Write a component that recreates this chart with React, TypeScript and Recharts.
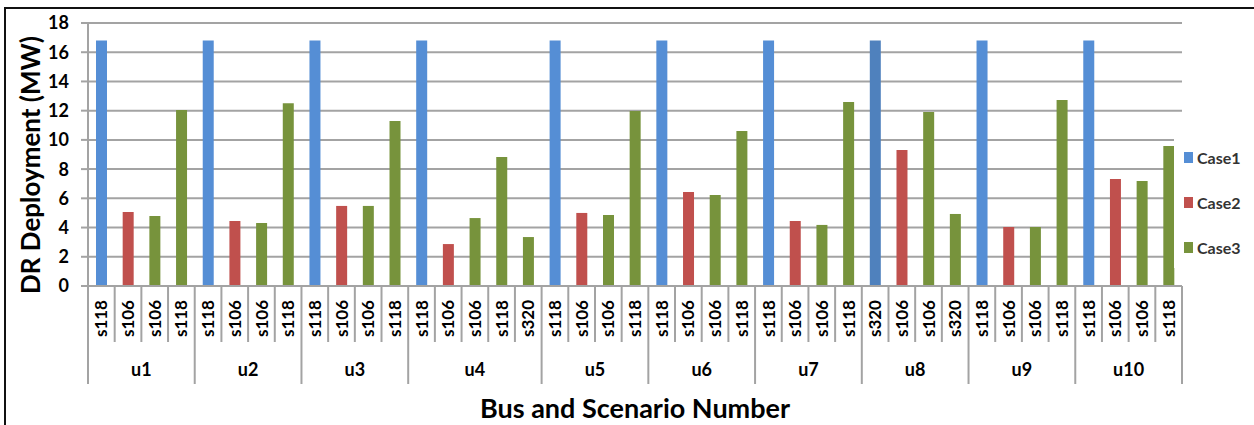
import { Bar, BarChart, CartesianGrid, Cell, XAxis, YAxis } from 'recharts';

const groupLabels = ['u1', 'u2', 'u3', 'u4', 'u5', 'u6', 'u7', 'u8', 'u9', 'u10'];

const scenarioLabels = [
  ['s118', 's106', 's106', 's118'],
  ['s118', 's106', 's106', 's118'],
  ['s118', 's106', 's106', 's118'],
  ['s118', 's106', 's106', 's118', 's320'],
  ['s118', 's106', 's106', 's118'],
  ['s118', 's106', 's106', 's118'],
  ['s118', 's106', 's106', 's118'],
  ['s320', 's106', 's106', 's320'],
  ['s118', 's106', 's106', 's118'],
  ['s118', 's106', 's106', 's118'],
];

const case1Values = [
  [16.8, null, null, null],
  [16.8, null, null, null],
  [16.8, null, null, null],
  [16.8, null, null, null, null],
  [16.8, null, null, null],
  [16.8, null, null, null],
  [16.8, null, null, null],
  [16.8, null, null, null],
  [16.8, null, null, null],
  [16.8, null, null, null],
];

const case2Values = [
  [null, 5.07, null, null],
  [null, 4.45, null, null],
  [null, 5.48, null, null],
  [null, 2.87, null, null, null],
  [null, 5.0, null, null],
  [null, 6.43, null, null],
  [null, 4.45, null, null],
  [null, 9.31, null, null],
  [null, 4.04, null, null],
  [null, 7.32, null, null],
];

const case3Values = [
  [null, null, 4.79, 12.05],
  [null, null, 4.31, 12.5],
  [null, null, 5.48, 11.29],
  [null, null, 4.65, 8.83, 3.35],
  [null, null, 4.86, 11.98],
  [null, null, 6.23, 10.61],
  [null, null, 4.18, 12.59],
  [null, null, 11.91, 4.93],
  [null, null, 4.04, 12.73],
  [null, null, 7.19, 9.58],
];

const seriesNames = ['Case1', 'Case2', 'Case3'];
const seriesColors = ['#558ED5', '#C0504D', '#77933C'];

const yTicks = [0, 2, 4, 6, 8, 10, 12, 14, 16, 18];

const FONT = 'Lato, "Open Sans", sans-serif';
const W = 1254;
const H = 425;
const PLOT_LEFT = 88;
const PLOT_RIGHT = 1182;
const PLOT_TOP = 23;
const PLOT_BOTTOM = 286;
const GRID = '#A3A3A3';

const rows = groupLabels.flatMap((g, gi) =>
  scenarioLabels[gi].map((s, si) => ({
    key: `${g}-${si}`,
    group: g,
    groupStart: si === 0,
    groupSize: scenarioLabels[gi].length,
    scenario: s,
    Case1: case1Values[gi][si],
    Case2: case2Values[gi][si],
    Case3: case3Values[gi][si],
  }))
);

const SLOT = (PLOT_RIGHT - PLOT_LEFT) / rows.length;

function ScenarioTick(props: any) {
  const { x, payload } = props;
  const i = props.index ?? payload.index;
  const row = rows[i];
  if (!row) return null;
  const left = x - SLOT / 2;
  const isLast = i === rows.length - 1;
  return (
    <g>
      <line x1={left} x2={left} y1={PLOT_BOTTOM} y2={row.groupStart ? 384 : 342} stroke={GRID} strokeWidth={2} />
      {isLast && <line x1={x + SLOT / 2} x2={x + SLOT / 2} y1={PLOT_BOTTOM} y2={384} stroke={GRID} strokeWidth={2} />}
      <text
        x={x}
        y={300}
        transform={`rotate(-90 ${x} 300)`}
        textAnchor="end"
        dy="0.36em"
        fontFamily={FONT}
        fontWeight="bold"
        fontSize={17}
        fill="#000"
      >
        {row.scenario}
      </text>
      {row.groupStart && (
        <text
          x={left + (SLOT * row.groupSize) / 2}
          y={370}
          textAnchor="middle"
          dy="0.36em"
          fontFamily={FONT}
          fontWeight="bold"
          fontSize={18}
          fill="#000"
        >
          {row.group}
        </text>
      )}
    </g>
  );
}

export default function App() {
  return (
    <div style={{ position: 'absolute', left: 0, top: 0, width: W, height: H, background: '#fff', overflow: 'hidden' }}>
      <div style={{ position: 'absolute', left: 4, top: 7, right: -5, bottom: -5, borderLeft: '2px solid #111', borderTop: '2px solid #111' }} />
      <div style={{ position: 'absolute', left: 0, top: 0 }}>
        <BarChart width={W} height={H} data={rows} margin={{ top: PLOT_TOP, right: W - PLOT_RIGHT, bottom: 39, left: 28 }}>
          <CartesianGrid vertical={false} stroke={GRID} strokeWidth={2} />
          <XAxis
            dataKey="key"
            interval={0}
            height={100}
            tickLine={false}
            tick={<ScenarioTick />}
            axisLine={{ stroke: GRID, strokeWidth: 2 }}
          />
          <YAxis
            domain={[0, 18]}
            ticks={yTicks}
            width={60}
            tickSize={7}
            tickMargin={12}
            axisLine={{ stroke: GRID, strokeWidth: 2 }}
            tickLine={{ stroke: GRID, strokeWidth: 2 }}
            tick={{ fontFamily: FONT, fontWeight: 'bold', fontSize: 18, fill: '#000' }}
          />
          <Bar dataKey="Case1" stackId="s" fill={seriesColors[0]} barSize={11} isAnimationActive={false}>
            {rows.map((r) => (
              <Cell key={r.key} fill={r.scenario === 's320' ? '#4F81BD' : seriesColors[0]} />
            ))}
          </Bar>
          <Bar dataKey="Case2" stackId="s" fill={seriesColors[1]} barSize={11} isAnimationActive={false} />
          <Bar dataKey="Case3" stackId="s" fill={seriesColors[2]} barSize={11} isAnimationActive={false} />
        </BarChart>
      </div>
      <div
        style={{
          position: 'absolute',
          left: 1174,
          top: 135,
          width: 80,
          height: 133,
          background: '#fff',
          boxSizing: 'border-box',
        }}
      >
        {seriesNames.map((name, i) => (
          <div key={name} style={{ display: 'flex', alignItems: 'center', height: 45, paddingLeft: 10 }}>
            <span style={{ display: 'inline-block', width: 9, height: 11, background: seriesColors[i], marginRight: 4 }} />
            <span style={{ fontFamily: FONT, fontSize: 16, fontWeight: 'bold', color: '#333' }}>{name}</span>
          </div>
        ))}
      </div>
      <div
        style={{
          position: 'absolute',
          left: 30,
          top: 165,
          transform: 'translate(-50%, -50%) rotate(-90deg)',
          whiteSpace: 'nowrap',
          fontFamily: FONT,
          fontWeight: 'bold',
          fontSize: 26,
          color: '#000',
        }}
      >
        DR Deployment (MW)
      </div>
      <div
        style={{
          position: 'absolute',
          left: 635,
          top: 407,
          transform: 'translate(-50%, -50%)',
          whiteSpace: 'nowrap',
          fontFamily: FONT,
          fontWeight: 'bold',
          fontSize: 27,
          color: '#000',
        }}
      >
        Bus and Scenario Number
      </div>
    </div>
  );
}
